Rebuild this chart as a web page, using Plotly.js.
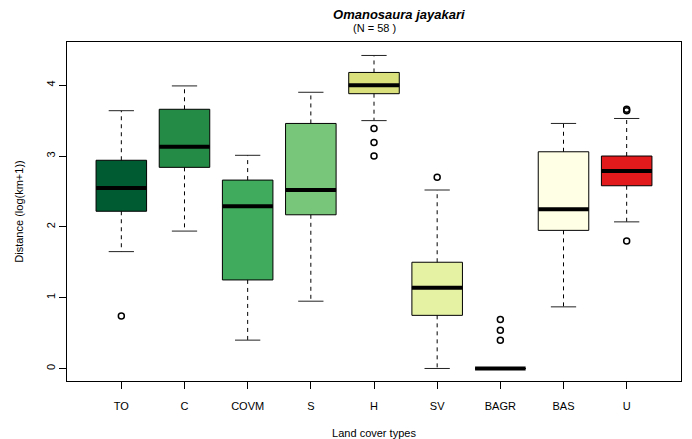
<!DOCTYPE html>
<html>
<head>
<meta charset="utf-8">
<script src="https://cdn.plot.ly/plotly-3.0.1.min.js"></script>
<style>html,body{margin:0;padding:0;background:#fff;}#chart{width:692px;height:439px;}</style>
</head>
<body>
<div id="chart"></div>
<script>
// ---- data ----
const categories   = ['TO', 'C', 'COVM', 'S', 'H', 'SV', 'BAGR', 'BAS', 'U'];
const lowerWhisker = [1.65, 1.94, 0.40, 0.95, 3.50, 0.00, 0.00, 0.87, 2.07];
const q1Values     = [2.22, 2.84, 1.25, 2.17, 3.88, 0.75, 0.00, 1.95, 2.58];
const medianValues = [2.55, 3.13, 2.29, 2.52, 4.00, 1.14, 0.00, 2.25, 2.79];
const q3Values     = [2.94, 3.66, 2.66, 3.46, 4.18, 1.50, 0.00, 3.06, 3.00];
const upperWhisker = [3.64, 3.99, 3.01, 3.90, 4.42, 2.52, 0.00, 3.46, 3.53];
const outlierValues = [[0.74], [], [], [], [3.39, 3.19, 3.00], [2.70], [0.69, 0.54, 0.40], [], [3.64, 3.66, 1.80]];
const boxColors    = ['#005A32', '#238B45', '#41AB5D', '#78C679', '#D9E07C', '#E5F1A3', '#F7FCB9', '#FFFFE5', '#E31A1C'];
const yTicks       = [0, 1, 2, 3, 4];

// ---- styling constants ----
const BOXW = 0.8, CAPW = 0.4;
const FONT = 'Liberation Sans, Arial, sans-serif';

const positions = categories.map((c, i) => i + 1);
const traces = [];

// boxes
categories.forEach((c, i) => {
  traces.push({
    type: 'box', name: c, x: [positions[i]],
    q1: [q1Values[i]], median: [medianValues[i]], q3: [q3Values[i]],
    lowerfence: [q1Values[i]], upperfence: [q3Values[i]],
    width: BOXW, whiskerwidth: 0, boxpoints: false,
    fillcolor: boxColors[i], line: {color: '#000', width: 1},
    hoverinfo: 'skip', showlegend: false
  });
});

// whiskers (dashed)
const wx = [], wy = [];
positions.forEach((p, i) => {
  wx.push(p, p, null, p, p, null);
  wy.push(q3Values[i], upperWhisker[i], null, q1Values[i], lowerWhisker[i], null);
});
traces.push({type: 'scatter', mode: 'lines', x: wx, y: wy, line: {color: '#000', width: 1, dash: '4px,4px'}, hoverinfo: 'skip', showlegend: false});

// staples
const sx = [], sy = [];
positions.forEach((p, i) => {
  sx.push(p - CAPW / 2, p + CAPW / 2, null, p - CAPW / 2, p + CAPW / 2, null);
  sy.push(upperWhisker[i], upperWhisker[i], null, lowerWhisker[i], lowerWhisker[i], null);
});
traces.push({type: 'scatter', mode: 'lines', x: sx, y: sy, line: {color: '#222', width: 1}, hoverinfo: 'skip', showlegend: false});

// medians (thick)
const mx = [], my = [];
positions.forEach((p, i) => {
  mx.push(p - BOXW / 2, p + BOXW / 2, null);
  my.push(medianValues[i], medianValues[i], null);
});
traces.push({type: 'scatter', mode: 'lines', x: mx, y: my, line: {color: '#000', width: 4}, hoverinfo: 'skip', showlegend: false});

// outliers
const ox = [], oy = [];
positions.forEach((p, i) => outlierValues[i].forEach(v => { ox.push(p); oy.push(v); }));
traces.push({type: 'scatter', mode: 'markers', x: ox, y: oy,
  marker: {symbol: 'circle-open', size: 6, color: '#000', line: {width: 1.5, color: '#000'}},
  hoverinfo: 'skip', showlegend: false});

const layout = {
  width: 692, height: 439,
  margin: {l: 67, r: 11, t: 42, b: 58, pad: 0},
  paper_bgcolor: '#fff', plot_bgcolor: '#fff',
  font: {family: FONT, size: 11, color: '#000'},
  showlegend: false,
  title: {text: '<b><i>Omanosaura jayakari</i></b>', font: {family: FONT, size: 13, color: '#000'},
          x: 374 / 692, xanchor: 'center', xref: 'paper', y: 1 - 14 / 439, yref: 'container', yanchor: 'middle'},
  annotations: [{text: '(N = 58 )', xref: 'paper', yref: 'paper', x: 0.5, y: 1 + (42 - 28) / 339,
                 xanchor: 'center', yanchor: 'middle', showarrow: false, font: {family: FONT, size: 11, color: '#000'}}],
  xaxis: {
    range: [0.14, 9.86], tickmode: 'array', tickvals: positions, ticktext: categories,
    ticks: 'outside', ticklen: 7, tickwidth: 1, tickcolor: '#000', ticklabelstandoff: 8,
    showline: true, mirror: true, linecolor: '#000', linewidth: 1,
    showgrid: false, zeroline: false, tickfont: {family: FONT, size: 11, color: '#000'},
    title: {text: 'Land cover types', font: {family: FONT, size: 11, color: '#000'}, standoff: 20}
  },
  yaxis: {
    range: [-0.177, 4.61], tickmode: 'array', tickvals: yTicks, ticktext: yTicks.map(String),
    tickangle: -90, ticks: 'outside', ticklen: 7, tickwidth: 1, tickcolor: '#000',
    showline: true, mirror: true, linecolor: '#000', linewidth: 1,
    showgrid: false, zeroline: false, tickfont: {family: FONT, size: 11, color: '#000'},
    title: {text: 'Distance (log(km+1))', font: {family: FONT, size: 11, color: '#000'}, standoff: 18}
  }
};

Plotly.newPlot('chart', traces, layout, {staticPlot: true, displayModeBar: false});
</script>
</body>
</html>
